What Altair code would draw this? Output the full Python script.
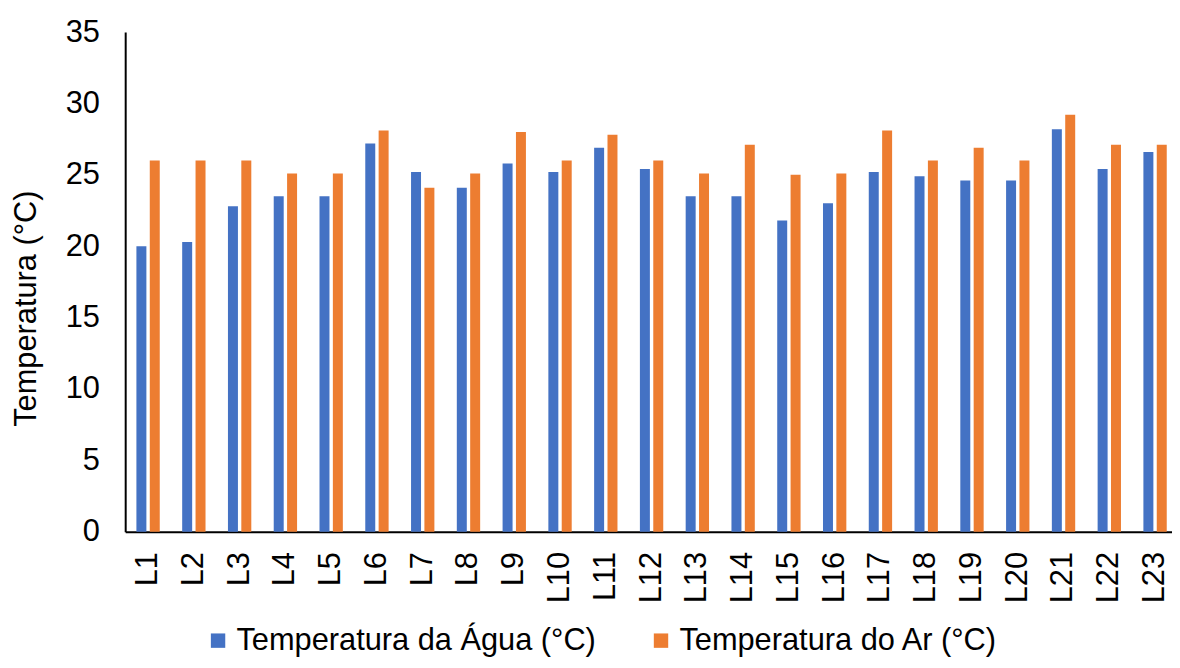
import altair as alt
import pandas as pd

locais = ["L1", "L2", "L3", "L4", "L5", "L6", "L7", "L8", "L9", "L10", "L11", "L12",
          "L13", "L14", "L15", "L16", "L17", "L18", "L19", "L20", "L21", "L22", "L23"]
agua = [20.0, 20.3, 22.8, 23.5, 23.5, 27.2, 25.2, 24.1, 25.8, 25.2, 26.9, 25.4,
        23.5, 23.5, 21.8, 23.0, 25.2, 24.9, 24.6, 24.6, 28.2, 25.4, 26.6]
ar = [26.0, 26.0, 26.0, 25.1, 25.1, 28.1, 24.1, 25.1, 28.0, 26.0, 27.8, 26.0,
      25.1, 27.1, 25.0, 25.1, 28.1, 26.0, 26.9, 26.0, 29.2, 27.1, 27.1]
series = ["Temperatura da Água (°C)", "Temperatura do Ar (°C)"]
colors = ["#4472C4", "#ED7D31"]
y_ticks = [0, 5, 10, 15, 20, 25, 30, 35]

df = pd.DataFrame({"Local": locais, series[0]: agua, series[1]: ar})
long = df.melt(id_vars="Local", var_name="Serie", value_name="Temperatura")

FONT = "Liberation Sans"
FS = 31

chart = alt.Chart(long).mark_bar().encode(
    x=alt.X("Local:N", sort=locais,
            scale=alt.Scale(paddingInner=0.49, paddingOuter=0.245),
            axis=alt.Axis(title=None, labelAngle=-90, labelPadding=20, ticks=False,
                          domainColor="black", domainWidth=2, labelFontSize=FS,
                          labelColor="black", labelFont=FONT, grid=False)),
    xOffset=alt.XOffset("Serie:N", sort=series,
                        scale=alt.Scale(paddingInner=0.253, paddingOuter=0)),
    y=alt.Y("Temperatura:Q", scale=alt.Scale(domain=[0, 35], nice=False),
            axis=alt.Axis(values=y_ticks, title="Temperatura (°C)", ticks=False,
                          labelPadding=26, domainColor="black", domainWidth=2,
                          labelFontSize=FS, labelColor="black", labelFont=FONT,
                          titleFontSize=FS, titleFont=FONT, titleColor="black",
                          titleFontWeight="normal", titleAngle=-90,
                          titleX=-99, titleY=278, titleAlign="center",
                          titleBaseline="middle", grid=False)),
    color=alt.Color("Serie:N", sort=series,
                    scale=alt.Scale(domain=series, range=colors),
                    legend=alt.Legend(title=None, orient="none", legendX=78, legendY=597,
                                      direction="horizontal", symbolType="square",
                                      symbolSize=210, symbolStrokeWidth=0,
                                      labelFontSize=FS, labelFont=FONT, labelColor="black",
                                      labelLimit=0, labelOffset=3, columnPadding=49,
                                      padding=0)),
).properties(
    width=1060, height=503,
    autosize=alt.AutoSizeParams(type="none"),
    padding={"left": 118, "top": 22, "right": -6, "bottom": 127},
).configure(font=FONT).configure_view(stroke=None)

chart.save("out.html", embed_options={"renderer": "svg", "actions": False})
